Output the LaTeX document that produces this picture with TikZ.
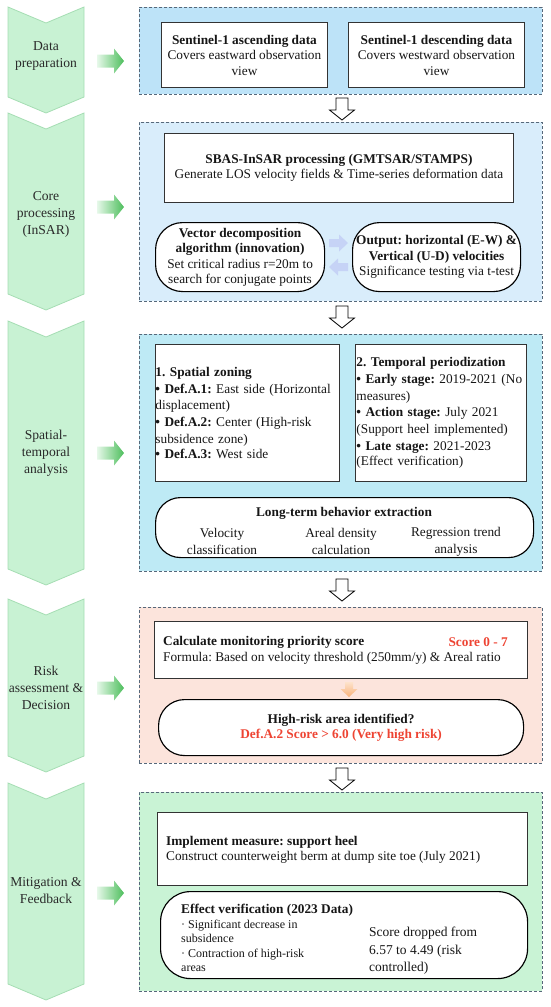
\documentclass[tikz,border=0pt]{standalone}
\usepackage{fontspec}
\setmainfont{Liberation Serif}
\usetikzlibrary{calc}
\definecolor{chevfill}{HTML}{C8F2D3}
\definecolor{chevdraw}{HTML}{A5DDB3}
\definecolor{dashcol}{HTML}{56687A}
\definecolor{pA}{HTML}{BDE3F8}
\definecolor{pB}{HTML}{D9EDFB}
\definecolor{pC}{HTML}{BEEAF5}
\definecolor{pD}{HTML}{FCE4DC}
\definecolor{pE}{HTML}{C9F3D5}
\definecolor{txt}{HTML}{161616}
\definecolor{chevtxt}{HTML}{2A2A2A}
\definecolor{redt}{HTML}{EE4433}
\definecolor{garrow}{HTML}{4DBE5C}
\definecolor{garrowL}{HTML}{E6F8E9}
\definecolor{barrow}{HTML}{C6D3F6}
\definecolor{oarrowT}{HTML}{FDE3CC}
\definecolor{oarrowB}{HTML}{F9B27A}
\tikzset{
  chev/.style={fill=chevfill, draw=chevdraw, line width=0.8pt},
  chevlabel/.style={text=chevtxt, align=center, font=\fontsize{13.6}{17}\selectfont},
  panel/.style={draw=dashcol, dash pattern=on 3pt off 2pt, line width=0.7pt, anchor=north west},
  sqbox/.style={draw=black!80, fill=white, line width=0.9pt, anchor=north west},
  rbox/.style={draw=black, fill=white, line width=1.15pt, rounded corners=27pt, anchor=north west},
  downarr/.pic={\draw[line width=0.8pt, fill=white, line join=miter] (-6,0) -- (6,0) -- (6,12) -- (12.5,12) -- (0,22) -- (-12.5,12) -- (-6,12) -- cycle;},
  garr/.pic={\shade[left color=garrowL, right color=garrow] (0,-6.5) -- (17,-6.5) -- (17,-12.5) -- (27,0) -- (17,12.5) -- (17,6.5) -- (0,6.5) -- cycle;},
  barrR/.pic={\fill[barrow] (0,-4) -- (10,-4) -- (10,-8.5) -- (19,0) -- (10,8.5) -- (10,4) -- (0,4) -- cycle;},
  barrL/.pic={\fill[barrow] (19,-4) -- (9,-4) -- (9,-8.5) -- (0,0) -- (9,8.5) -- (9,4) -- (19,4) -- cycle;},
  oarr/.pic={\shade[top color=oarrowT, bottom color=oarrowB] (-4,0) -- (4,0) -- (4,7) -- (8.5,7) -- (0,15) -- (-8.5,7) -- (-4,7) -- cycle;}
}
\begin{document}
\frenchspacing
\begin{tikzpicture}[x=1pt,y=-1pt, font=\fontsize{13.3}{15.5}\selectfont, every node/.style={text=txt, inner sep=0pt}]
\useasboundingbox (0,0) rectangle (550,1007);

% ---------- left chevrons ----------
\path[chev] (8,7) -- (46,23) -- (84,7) -- (84,97) -- (46,113) -- (8,97) -- cycle;
\path[chev] (8,113) -- (46,129) -- (84,113) -- (84,294) -- (46,310) -- (8,294) -- cycle;
\path[chev] (8,321) -- (46,337) -- (84,321) -- (84,569) -- (46,585) -- (8,569) -- cycle;
\path[chev] (8,599) -- (46,615) -- (84,599) -- (84,756) -- (46,772) -- (8,756) -- cycle;
\path[chev] (8,783) -- (46,799) -- (84,783) -- (84,984) -- (46,1000) -- (8,984) -- cycle;

\node[chevlabel] (c1) at (46,56) {Data\\preparation};
\node[chevlabel] (c2) at (46,214) {Core\\processing\\(InSAR)};
\node[chevlabel] (c3) at (46,453) {Spatial-\\temporal\\analysis};
\node[chevlabel] (c4) at (46,688) {Risk\\assessment \&\\Decision};
\node[chevlabel] (c5) at (46,891) {Mitigation \&\\Feedback};

% ---------- green arrows ----------
\path (97,61) pic {garr};
\path (97,207) pic {garr};
\path (97,453) pic {garr};
\path (97,688) pic {garr};
\path (97,893) pic {garr};

% ---------- panels ----------
\node[panel, fill=pA, minimum width=403pt, minimum height=87pt] (p1) at (139,7) {};
\node[panel, fill=pB, minimum width=403pt, minimum height=179pt] (p2) at (139,122) {};
\node[panel, fill=pC, minimum width=403pt, minimum height=237pt] (p3) at (139,334) {};
\node[panel, fill=pD, minimum width=403pt, minimum height=156pt] (p4) at (139,607) {};
\node[panel, fill=pE, minimum width=403pt, minimum height=199pt] (p5) at (139,792) {};

% ---------- down arrows ----------
\path (342,98) pic {downarr};
\path (342,306) pic {downarr};
\path (342,579) pic {downarr};
\path (342,768) pic {downarr};

% ---------- panel 1 ----------
\node[sqbox, minimum width=166pt, minimum height=65pt, align=center] (b1) at (161,22)
  {\textbf{Sentinel-1 ascending data}\\Covers eastward observation\\view};
\node[sqbox, minimum width=176pt, minimum height=65pt, align=center] (b2) at (348,22)
  {\textbf{Sentinel-1 descending data}\\Covers westward observation\\view};

% ---------- panel 2 ----------
\node[sqbox, minimum width=349pt, minimum height=69pt, align=center] (sb) at (164,133)
  {\textbf{SBAS-InSAR processing (GMTSAR/STAMPS)}\\Generate LOS velocity fields \& Time-series deformation data};
\node[rbox, minimum width=169pt, minimum height=69pt, align=center] (vd) at (155,222)
  {\textbf{Vector decomposition}\\\textbf{algorithm (innovation)}\\Set critical radius r=20m to\\search for conjugate points};
\node[rbox, minimum width=168pt, minimum height=69pt, align=center] (ov) at (352,222)
  {\textbf{Output: horizontal (E-W) \&}\\\textbf{Vertical (U-D) velocities}\\Significance testing via t-test};
\path (329,243) pic {barrR};
\path (329,267) pic {barrL};

% ---------- panel 3 ----------
\node[sqbox, minimum width=184pt, minimum height=137pt, text width=184pt, align=left] (sz) at (155,344)
  {\fontsize{13.3}{16.7}\selectfont
   \textbf{1. Spatial zoning}\\
   \textbf{• Def.A.1:} East side (Horizontal\\
   displacement)\\
   \textbf{• Def.A.2:} Center (High-risk\\
   subsidence zone)\\
   \textbf{• Def.A.3:} West side};
\node[sqbox, minimum width=171pt, minimum height=137pt, text width=169pt, inner xsep=1pt, align=left] (tp) at (355,344)
  {\fontsize{13.3}{16.7}\selectfont
   \textbf{2. Temporal periodization}\\
   \textbf{• Early stage:} 2019-2021 (No\\
   measures)\\
   \textbf{• Action stage:} July 2021\\
   (Support heel implemented)\\
   \textbf{• Late stage:} 2021-2023\\
   (Effect verification)};
\node[rbox, minimum width=378pt, minimum height=60pt, rounded corners=25pt] (lt) at (155,497) {};
\node[font=\bfseries\fontsize{13.3}{16}\selectfont] (ltt) at (344,513) {Long-term behavior extraction};
\node[align=center, font=\fontsize{13.3}{17}\selectfont] (lt1) at (222,541.5) {Velocity\\classification};
\node[align=center, font=\fontsize{13.3}{17}\selectfont] (lt2) at (341,541.5) {Areal density\\calculation};
\node[align=center, font=\fontsize{13.3}{17}\selectfont] (lt3) at (456,541.5) {Regression trend\\analysis};

% ---------- panel 4 ----------
\node[sqbox, minimum width=373pt, minimum height=57pt] (cb) at (154,621) {};
\node[anchor=west, font=\bfseries\fontsize{13.3}{16}\selectfont] (cbt) at (163,642) {Calculate monitoring priority score};
\node[anchor=east, text=redt, font=\bfseries\fontsize{13.3}{16}\selectfont] (cbs) at (508,642) {Score 0 - 7};
\node[anchor=west] (cbf) at (163,658) {Formula: Based on velocity threshold (250mm/y) \& Areal ratio};
\path (349,682) pic {oarr};
\node[rbox, minimum width=365pt, minimum height=56pt, rounded corners=26pt, align=center] (hr) at (158,699)
  {\textbf{High-risk area identified?}\\\textcolor{redt}{\textbf{Def.A.2 Score > 6.0 (Very high risk)}}};

% ---------- panel 5 ----------
\node[sqbox, minimum width=370pt, minimum height=73pt] (im) at (157,812) {};
\node[anchor=west, align=left] (imt) at (166,850)
  {\textbf{Implement measure: support heel}\\Construct counterweight berm at dump site toe (July 2021)};
\node[rbox, minimum width=367pt, minimum height=87pt, rounded corners=30pt] (ev) at (160,891) {};
\node[anchor=west, font=\bfseries\fontsize{13.3}{16}\selectfont] (evt) at (181,910) {Effect verification (2023 Data)};
\node[anchor=north west, align=left, font=\fontsize{12}{14.3}\selectfont] (evl) at (181,920)
  {· Significant decrease in\\subsidence\\· Contraction of high-risk\\areas};
\node[anchor=west, align=left, font=\fontsize{13.5}{17.5}\selectfont] (evr) at (369,951)
  {Score dropped from\\6.57 to 4.49 (risk\\controlled)};
\end{tikzpicture}
\end{document}
